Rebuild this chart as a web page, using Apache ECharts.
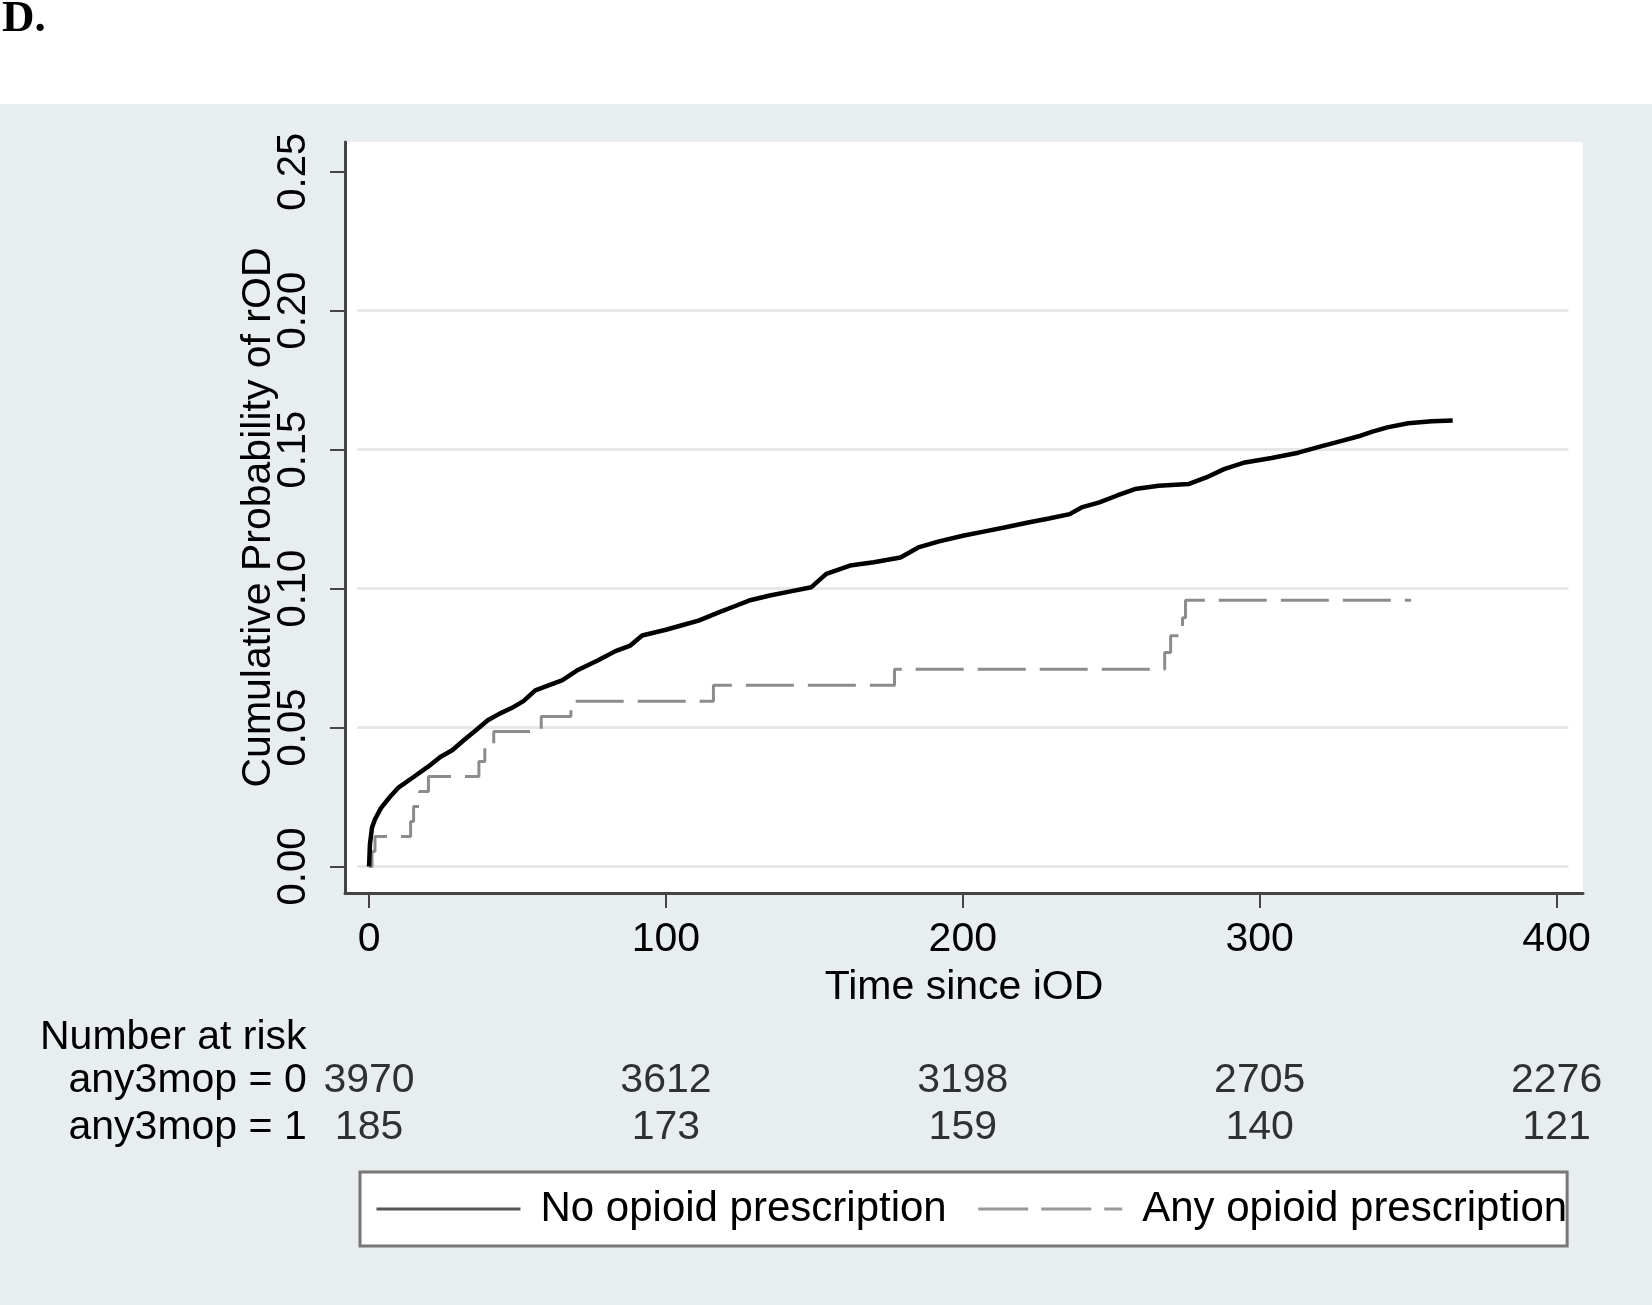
<!DOCTYPE html>
<html>
<head>
<meta charset="utf-8">
<script src="https://cdn.jsdelivr.net/npm/echarts@6/dist/echarts.min.js"></script>
<style>
html,body{margin:0;padding:0;background:#fff;}
#chart{width:1652px;height:1305px;}
</style>
</head>
<body>
<div id="chart"></div>
<script>
// ---- data ----
const timeTicks = [0, 100, 200, 300, 400];
const probTicks = [0, 0.05, 0.10, 0.15, 0.20, 0.25];
const gridProbs = [0, 0.05, 0.10, 0.15, 0.20];

const seriesNames = ['No opioid prescription', 'Any opioid prescription'];

const noOpioidTime = [0, 0.3, 1, 2, 4, 7, 10, 15, 20, 24, 28, 32, 36, 40, 44, 48, 52, 56, 60, 65, 70, 77, 83, 88, 92, 100, 106, 111, 118, 124, 128, 135, 142, 149, 154, 162, 170, 179, 185, 192, 200, 207, 214, 222, 229, 236, 240, 246, 252, 258, 266, 276, 282, 288, 295, 304, 313, 320, 327, 334, 338, 343, 350, 358, 365];
const noOpioidProb = [0, 0.008, 0.014, 0.017, 0.021, 0.025, 0.0285, 0.0322, 0.036, 0.0394, 0.0418, 0.0455, 0.049, 0.0526, 0.055, 0.057, 0.0595, 0.0634, 0.065, 0.067, 0.0705, 0.0741, 0.0775, 0.0795, 0.0831, 0.0852, 0.087, 0.0885, 0.0915, 0.094, 0.0957, 0.0975, 0.099, 0.1005, 0.1053, 0.1083, 0.1095, 0.1112, 0.1148, 0.117, 0.119, 0.1205, 0.122, 0.1238, 0.1252, 0.1268, 0.1292, 0.131, 0.1335, 0.1358, 0.137, 0.1376, 0.140, 0.143, 0.1454, 0.147, 0.1489, 0.151, 0.153, 0.155, 0.1565, 0.158, 0.1595, 0.1602, 0.1605];

const anyOpioidTime = [0, 1, 2, 14, 15, 17, 20, 37, 39, 42, 58, 68, 116, 177, 268, 270, 274, 275, 351];
const anyOpioidProb = [0, 0.0054, 0.0108, 0.0162, 0.0216, 0.027, 0.0324, 0.0378, 0.0432, 0.0486, 0.054, 0.0595, 0.0652, 0.0710, 0.0770, 0.0830, 0.0895, 0.0958, 0.0958];

const riskGroups = ['any3mop = 0', 'any3mop = 1'];
const atRiskNone = [3970, 3612, 3198, 2705, 2276];
const atRiskAny = [185, 173, 159, 140, 121];

// ---- build ----
const FONT = "'Liberation Sans', Arial, sans-serif";
const TXT = '#000';
const zip = (a, b) => a.map((v, i) => [v, b[i]]);
const riskData = [];
timeTicks.forEach((t, i) => riskData.push([t, 0, atRiskNone[i]]));
timeTicks.forEach((t, i) => riskData.push([t, 1, atRiskAny[i]]));

const chart = echarts.init(document.getElementById('chart'), null, {renderer: 'canvas'});
const axisColor = '#444';

const option = {
  backgroundColor: '#e8edf0',
  animation: false,
  textStyle: {fontFamily: FONT},
  graphic: [
    {type: 'rect', shape: {x: 0, y: 0, width: 1652, height: 104}, style: {fill: '#ffffff'}, z: -10, silent: true},
    {type: 'text', left: 2, top: -3, style: {text: 'D.', font: "bold 45px 'Liberation Serif', 'Times New Roman', serif", fill: '#000'}},
    {type: 'text', left: 40, top: 1017, style: {text: 'Number at risk', font: "41px " + FONT, fill: TXT}}
  ],
  grid: [
    {left: 345, top: 142, width: 1238, height: 751, show: true, backgroundColor: '#ffffff', borderWidth: 0},
    {left: 345, top: 1057, width: 1238, height: 94, show: false}
  ],
  legend: {
    left: 360, top: 1172,
    orient: 'horizontal',
    backgroundColor: '#ffffff',
    borderColor: '#777',
    borderWidth: 3,
    padding: [14, 0, 14, 15],
    itemWidth: 144,
    itemHeight: 14,
    itemGap: 30,
    textStyle: {fontSize: 42, fontFamily: FONT, color: TXT, lineHeight: 46, padding: [0, 0, 0, 15]},
    data: [
      {name: seriesNames[0], itemStyle: {opacity: 0}, lineStyle: {color: '#555', width: 3, type: 'solid'}},
      {name: seriesNames[1], itemStyle: {opacity: 0}, lineStyle: {color: '#999', width: 3, type: [50, 13]}}
    ]
  },
  xAxis: [
    {
      gridIndex: 0, type: 'value', min: -8.1, max: 408.9,
      axisLine: {show: true, onZero: false, lineStyle: {color: axisColor, width: 3}},
      axisTick: {show: true, customValues: timeTicks, length: 15, lineStyle: {color: axisColor, width: 2}},
      axisLabel: {show: true, customValues: timeTicks, fontSize: 41, color: TXT, margin: 26, fontFamily: FONT},
      splitLine: {show: false},
      name: 'Time since iOD', nameLocation: 'middle', nameGap: 74,
      nameTextStyle: {fontSize: 41, color: TXT, fontFamily: FONT}
    },
    {
      gridIndex: 1, type: 'value', min: -8.1, max: 408.9, show: false
    }
  ],
  yAxis: [
    {
      gridIndex: 0, type: 'value', min: -0.00954, max: 0.2607,
      axisLine: {show: true, onZero: false, lineStyle: {color: axisColor, width: 3}},
      axisTick: {show: true, customValues: probTicks, length: 15, lineStyle: {color: axisColor, width: 2}},
      axisLabel: {show: true, customValues: probTicks, rotate: 90, fontSize: 40, color: TXT, margin: 31, fontFamily: FONT,
        formatter: v => Number(v).toFixed(2)},
      splitLine: {show: false},
      name: 'Cumulative Probability of rOD', nameLocation: 'middle', nameRotate: 90, nameGap: 66,
      nameMoveOverlap: false,
      nameTextStyle: {fontSize: 41, color: TXT, fontFamily: FONT}
    },
    {
      gridIndex: 1, type: 'category', data: riskGroups, inverse: true,
      axisLine: {show: false}, axisTick: {show: false}, splitLine: {show: false},
      axisLabel: {show: true, interval: 0, align: 'left', margin: 276.5, fontSize: 41, color: TXT, fontFamily: FONT}
    }
  ],
  series: [
    {
      name: '_grid', type: 'line', xAxisIndex: 0, yAxisIndex: 0, data: [], silent: true, z: 1,
      markLine: {
        silent: true, symbol: ['none', 'none'], z: 1,
        label: {show: false},
        lineStyle: {color: '#e4e8ea', width: 3, type: 'solid'},
        data: gridProbs.map(p => [{coord: [-4, p]}, {coord: [404, p]}])
      }
    },
    {
      name: seriesNames[1], type: 'line', xAxisIndex: 0, yAxisIndex: 0, z: 3,
      data: zip(anyOpioidTime, anyOpioidProb), step: 'end', symbol: 'none', showSymbol: false,
      itemStyle: {color: '#8c8c8c'},
      lineStyle: {color: '#8c8c8c', width: 3, type: [48, 14]}
    },
    {
      name: seriesNames[0], type: 'line', xAxisIndex: 0, yAxisIndex: 0, z: 4,
      data: zip(noOpioidTime, noOpioidProb), symbol: 'none', showSymbol: false,
      itemStyle: {color: '#000'},
      lineStyle: {color: '#000', width: 4.5}
    },
    {
      name: '_risk', type: 'scatter', xAxisIndex: 1, yAxisIndex: 1,
      data: riskData, symbolSize: 1, itemStyle: {color: 'rgba(0,0,0,0)'},
      label: {show: true, position: 'inside', fontSize: 41, color: TXT, fontFamily: FONT,
        formatter: p => String(p.value[2])}
    }
  ]
};
chart.setOption(option);
</script>
</body>
</html>
